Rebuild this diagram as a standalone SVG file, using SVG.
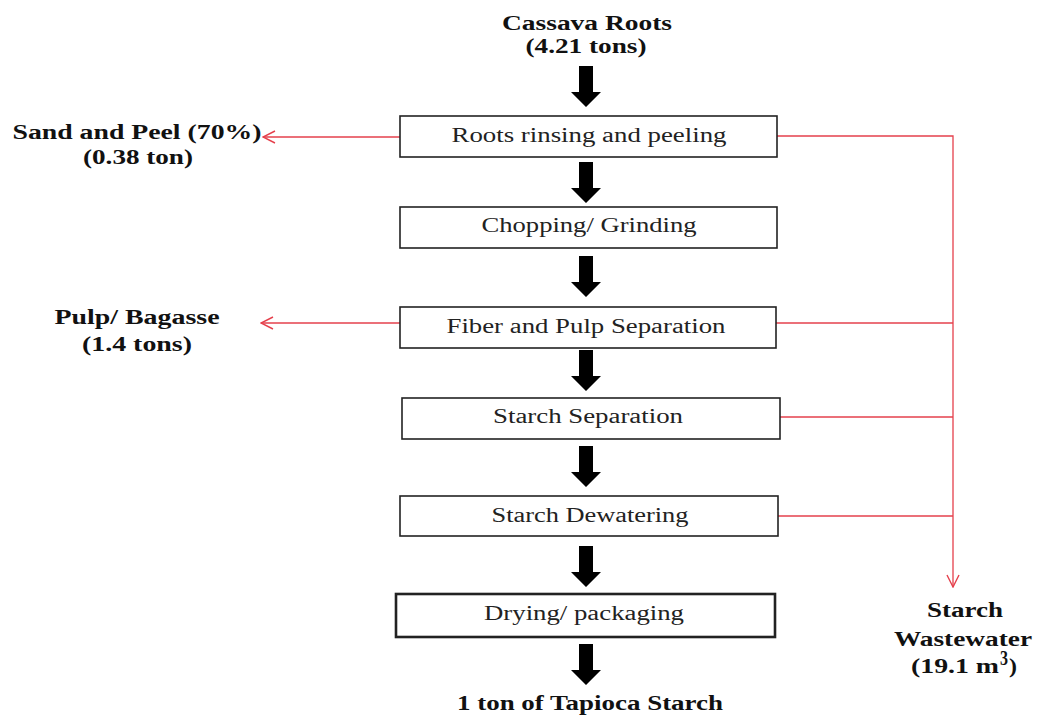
<svg xmlns="http://www.w3.org/2000/svg" width="1040" height="718" viewBox="0 0 1040 718">
<defs>
<style>
.box{fill:#fff;stroke:#222;stroke-width:1.6}
.thick{stroke-width:2.6}
.t{font-family:"Liberation Serif","Times New Roman",serif;font-size:20px;fill:#222}
.b{font-family:"Liberation Serif","Times New Roman",serif;font-size:20px;font-weight:bold;fill:#111}
.red{fill:none;stroke:#e5404c;stroke-width:1.3}
.blk{fill:#000}
</style>
<marker id="ra" viewBox="0 0 14 14" refX="13" refY="7" markerWidth="14" markerHeight="14" markerUnits="userSpaceOnUse" orient="auto">
<path d="M1,1 L13,7 L1,13" fill="none" stroke="#e5404c" stroke-width="1.4"/>
</marker>
<path id="bar" d="M-7,0 H7 V26 H15 L0,41 L-15,26 H-7 Z"/>
</defs>
<rect width="1040" height="718" fill="#fff"/>

<g id="connectors">
<use href="#bar" class="blk" x="586" y="66"/>
<use href="#bar" class="blk" x="586" y="162"/>
<use href="#bar" class="blk" x="586" y="256"/>
<use href="#bar" class="blk" x="586" y="350"/>
<use href="#bar" class="blk" x="586" y="446"/>
<use href="#bar" class="blk" x="586" y="546"/>
<use href="#bar" class="blk" x="586" y="644"/>
<path class="red" d="M400,137 H263" marker-end="url(#ra)"/>
<path class="red" d="M400,323 H261" marker-end="url(#ra)"/>
<path class="red" d="M777,136 H953 V587" marker-end="url(#ra)"/>
<path class="red" d="M776,323 H953"/>
<path class="red" d="M780,417 H953"/>
<path class="red" d="M778,516 H953"/>
</g>

<g id="input">
<text class="b" x="587" y="30" text-anchor="middle" textLength="170" lengthAdjust="spacingAndGlyphs">Cassava Roots</text>
<text class="b" x="586" y="53" text-anchor="middle" textLength="121" lengthAdjust="spacingAndGlyphs">(4.21 tons)</text>
</g>

<g id="n1">
<rect class="box" x="400" y="116" width="377" height="41"/>
<text class="t" x="589" y="142" text-anchor="middle" textLength="275" lengthAdjust="spacingAndGlyphs">Roots rinsing and peeling</text>
</g>
<g id="n2">
<rect class="box" x="400" y="207" width="377" height="41"/>
<text class="t" x="589" y="232" text-anchor="middle" textLength="215" lengthAdjust="spacingAndGlyphs">Chopping/ Grinding</text>
</g>
<g id="n3">
<rect class="box" x="400" y="307" width="376" height="41"/>
<text class="t" x="586" y="333" text-anchor="middle" textLength="279" lengthAdjust="spacingAndGlyphs">Fiber and Pulp Separation</text>
</g>
<g id="n4">
<rect class="box" x="402" y="398" width="378" height="41"/>
<text class="t" x="588" y="423" text-anchor="middle" textLength="190" lengthAdjust="spacingAndGlyphs">Starch Separation</text>
</g>
<g id="n5">
<rect class="box" x="400" y="496" width="378" height="40"/>
<text class="t" x="590" y="522" text-anchor="middle" textLength="197" lengthAdjust="spacingAndGlyphs">Starch Dewatering</text>
</g>
<g id="n6">
<rect class="box thick" x="396" y="594" width="379" height="43"/>
<text class="t" x="584" y="620" text-anchor="middle" textLength="200" lengthAdjust="spacingAndGlyphs">Drying/ packaging</text>
</g>

<g id="output">
<text class="b" x="590" y="710" text-anchor="middle" textLength="266" lengthAdjust="spacingAndGlyphs">1 ton of Tapioca Starch</text>
</g>

<g id="sand">
<text class="b" x="137" y="139" text-anchor="middle" textLength="249" lengthAdjust="spacingAndGlyphs">Sand and Peel (70%)</text>
<text class="b" x="138" y="164" text-anchor="middle" textLength="110" lengthAdjust="spacingAndGlyphs">(0.38 ton)</text>
</g>

<g id="pulp">
<text class="b" x="137" y="324" text-anchor="middle" textLength="165" lengthAdjust="spacingAndGlyphs">Pulp/ Bagasse</text>
<text class="b" x="137" y="351" text-anchor="middle" textLength="110" lengthAdjust="spacingAndGlyphs">(1.4 tons)</text>
</g>

<g id="wastewater">
<text class="b" x="965" y="617" text-anchor="middle" textLength="76" lengthAdjust="spacingAndGlyphs">Starch</text>
<text class="b" x="963" y="646" text-anchor="middle" textLength="138" lengthAdjust="spacingAndGlyphs">Wastewater</text>
<text class="b" x="911" y="673" textLength="88" lengthAdjust="spacingAndGlyphs">(19.1 m</text>
<text class="b" x="1000" y="665" font-size="13" textLength="8" lengthAdjust="spacingAndGlyphs">3</text>
<text class="b" x="1009" y="673" textLength="8" lengthAdjust="spacingAndGlyphs">)</text>
</g>
</svg>
